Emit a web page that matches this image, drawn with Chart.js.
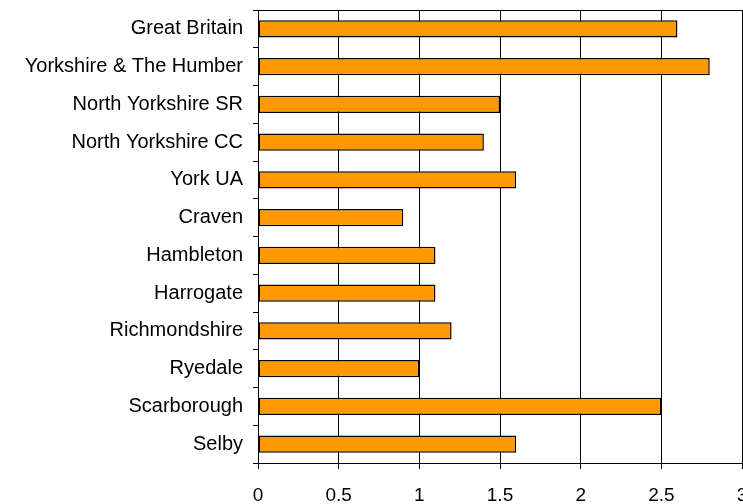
<!DOCTYPE html>
<html>
<head>
<meta charset="utf-8">
<script src="https://cdn.jsdelivr.net/npm/chart.js@4"></script>
<style>
  html, body { margin: 0; padding: 0; overflow: hidden; background: #fff; }
  #wrap { position: absolute; left: 0; top: 0; width: 760px; height: 504px; }
</style>
</head>
<body>
<div id="wrap"><canvas id="barChart" width="760" height="504"></canvas></div>
<script>
// categories and values
const areas = ['Great Britain', 'Yorkshire & The Humber', 'North Yorkshire SR', 'North Yorkshire CC',
    'York UA', 'Craven', 'Hambleton', 'Harrogate', 'Richmondshire', 'Ryedale', 'Scarborough', 'Selby'];
const rates = [2.6, 2.8, 1.5, 1.4, 1.6, 0.9, 1.1, 1.1, 1.2, 1.0, 2.5, 1.6];
const xTicks = [0, 0.5, 1, 1.5, 2, 2.5, 3];

// draws the box round the plot area (top and right edges)
const frame = {
    id: 'frame',
    afterDraw: function (chart) {
        const a = chart.chartArea;
        const ctx = chart.ctx;
        ctx.save();
        ctx.strokeStyle = '#000';
        ctx.lineWidth = 1;
        ctx.strokeRect(Math.round(a.left) + 0.5, Math.round(a.top) + 0.5,
            Math.round(a.right - a.left), Math.round(a.bottom - a.top));
        ctx.restore();
    }
};

const config = {
    type: 'bar',
    data: {
        labels: areas,
        datasets: [{
            data: rates,
            backgroundColor: '#FF9900',
            borderColor: '#000',
            borderWidth: 1.5,
            borderSkipped: false,
            categoryPercentage: 1,
            barPercentage: 0.46
        }]
    },
    options: {
        indexAxis: 'y',
        responsive: false,
        devicePixelRatio: 1,
        animation: false,
        layout: { padding: { top: 10, right: 18, left: 0, bottom: 0 } },
        plugins: {
            legend: { display: false },
            tooltip: { enabled: false }
        },
        scales: {
            x: {
                min: 0,
                max: 3,
                afterBuildTicks: function (scale) {
                    scale.ticks = xTicks.map(v => ({ value: v }));
                },
                afterFit: function (scale) {
                    scale.height = 41;
                    scale.paddingLeft = 0;
                    scale.paddingRight = 0;
                },
                grid: {
                    color: '#000',
                    lineWidth: 1,
                    drawTicks: true,
                    tickLength: 6
                },
                border: { color: '#000', width: 1 },
                ticks: {
                    color: '#000',
                    padding: 15,
                    maxRotation: 0,
                    callback: function (v) { return String(v); },
                    font: { family: 'Liberation Sans, Arial', size: 19 }
                }
            },
            y: {
                afterFit: function (scale) {
                    scale.width = 258;
                    scale.paddingTop = 0;
                    scale.paddingBottom = 0;
                },
                grid: {
                    offset: true,
                    drawOnChartArea: false,
                    drawTicks: true,
                    tickLength: 5,
                    color: '#000'
                },
                border: { color: '#000', width: 1 },
                ticks: {
                    color: '#000',
                    padding: 10,
                    font: { family: 'Liberation Sans, Arial', size: 20 }
                }
            }
        }
    },
    plugins: [frame]
};

const myBarChart = new Chart(document.getElementById('barChart'), config);
</script>
</body>
</html>
